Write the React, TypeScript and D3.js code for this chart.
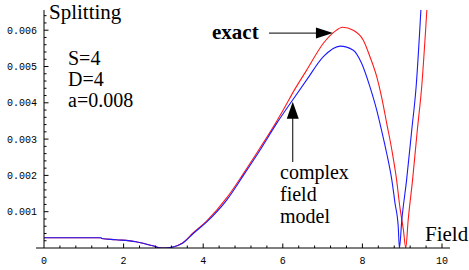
import React from "react"
import * as d3 from "d3"

// readings (Field, Splitting)
const lowField = [0, 1.43, 1.45, 1.81, 2.31, 2.73, 2.96, 3.06]
const lowValue = [0.000284, 0.000284, 0.000262, 0.000229, 0.000174, 0.000063, 0, 0]

const exactField = [3.06, 3.48, 3.75, 4.09, 4.59, 5.01, 5.43, 5.85, 6.01, 6.3, 6.6, 7.02, 7.3, 7.5, 7.77, 8.02, 8.19, 8.36, 8.48, 8.61, 8.74, 8.86, 8.94, 9.03, 9.09, 9.15, 9.26, 9.38, 9.49, 9.62]
const exactValue = [0, 0.00014, 0.00042, 0.00075, 0.00138, 0.00205, 0.00276, 0.0035, 0.0038, 0.00437, 0.0049, 0.00564, 0.00596, 0.00608, 0.006, 0.00573, 0.00527, 0.00472, 0.00417, 0.00344, 0.0027, 0.00187, 0.00114, 0.0005, 0, 0.00077, 0.00187, 0.00325, 0.00444, 0.00656]

const modelField = [3.06, 3.48, 3.75, 4.09, 4.59, 5.01, 5.43, 5.85, 6.23, 6.6, 7.02, 7.44, 7.77, 7.98, 8.19, 8.36, 8.48, 8.61, 8.74, 8.82, 8.9, 8.93, 8.99, 9.11, 9.24, 9.35, 9.47]
const modelValue = [0, 0.00013, 0.0004, 0.00072, 0.00132, 0.002, 0.0027, 0.00344, 0.00405, 0.00463, 0.00527, 0.00556, 0.00545, 0.00509, 0.00444, 0.0038, 0.00325, 0.00261, 0.00187, 0.00123, 0.00059, 0, 0.00077, 0.00187, 0.00325, 0.00444, 0.00656]

const xTicks = [0, 2, 4, 6, 8, 10]
const yTicks = [0.001, 0.002, 0.003, 0.004, 0.005, 0.006]
const params = ["S=4", "D=4", "a=0.008"]
const modelLabel = ["complex", "field", "model"]

const W = 469
const H = 270

export default function App() {
  const x = d3.scaleLinear().domain([0, 10]).range([44, 442])
  const y = d3.scaleLinear().domain([0, 0.006]).range([248, 30.2])
  const yTop = y(0.00656)

  const line = d3.line<[number, number]>()
    .x(d => x(d[0]))
    .y(d => y(d[1]))
    .curve(d3.curveMonotoneX)

  const low = lowField.map((f, i) => [f, lowValue[i]] as [number, number])
  const exact = low.concat(exactField.slice(1).map((f, i) => [f, exactValue[i + 1]] as [number, number]))
  const model = low.concat(modelField.slice(1).map((f, i) => [f, modelValue[i + 1]] as [number, number]))

  const xMinor = d3.range(0, 10.001, 0.4).filter(v => !xTicks.some(t => Math.abs(t - v) < 1e-6))
  const yMinor = d3.range(0.0002, 0.0065, 0.0002).filter(v => !yTicks.some(t => Math.abs(t - v) < 1e-9))

  const serif = "'Liberation Serif', 'Times New Roman', serif"
  const mono = "'Liberation Mono', 'Courier New', monospace"

  // arrow tips pointing at the curves
  const ex = [x(7.26), y(0.00592)]
  const cm = [x(6.25), y(0.00403)]

  return (
    <svg width={W} height={H} style={{ position: "absolute", left: 0, top: 0, background: "#fff" }}>
      <defs>
        <clipPath id="plot">
          <rect x={x(0)} y={yTop} width={x(10) - x(0) + 10} height={y(0) - yTop} />
        </clipPath>
      </defs>

      {/* curves */}
      <g clipPath="url(#plot)" fill="none" strokeWidth={1.1}>
        <path d={line(exact) || ""} stroke="#ff1a1a" />
        <path d={line(model) || ""} stroke="#1a1aff" />
      </g>

      {/* axes */}
      <g stroke="#000" strokeWidth={1}>
        <line x1={36} x2={450} y1={y(0)} y2={y(0)} />
        <line x1={x(0)} x2={x(0)} y1={y(0)} y2={10} />
        {xTicks.filter(t => t > 0).map(t => (
          <line key={"xt" + t} x1={x(t)} x2={x(t)} y1={y(0)} y2={y(0) - 4.5} />
        ))}
        {xMinor.map(t => (
          <line key={"xm" + t} x1={x(t)} x2={x(t)} y1={y(0)} y2={y(0) - 2.5} />
        ))}
        {yTicks.map(t => (
          <line key={"yt" + t} x1={x(0)} x2={x(0) + 4.5} y1={y(t)} y2={y(t)} />
        ))}
        {yMinor.map(t => (
          <line key={"ym" + t} x1={x(0)} x2={x(0) + 2.5} y1={y(t)} y2={y(t)} />
        ))}
      </g>

      <g fontFamily={mono} fontSize={10} fill="#000">
        {xTicks.map(t => (
          <text key={"xl" + t} x={x(t)} y={264} textAnchor="middle">{t}</text>
        ))}
        {yTicks.map(t => (
          <text key={"yl" + t} x={37} y={y(t) + 3.5} textAnchor="end">{d3.format(".3f")(t)}</text>
        ))}
      </g>

      <g fontFamily={serif} fontSize={21} fill="#000">
        <text x={49} y={19}>Splitting</text>
        <text x={425} y={241}>Field</text>
        <text x={212} y={39} fontWeight="bold">exact</text>
      </g>
      <g fontFamily={serif} fontSize={20} fill="#000">
        {params.map((p, i) => (
          <text key={p} x={68} y={65 + i * 21}>{p}</text>
        ))}
        {modelLabel.map((p, i) => (
          <text key={p} x={280} y={179 + i * 22}>{p}</text>
        ))}
      </g>

      {/* arrows */}
      <g stroke="#000" strokeWidth={1} fill="#000">
        <line x1={269} x2={ex[0] - 14} y1={ex[1]} y2={ex[1]} />
        <path d={`M${ex[0]},${ex[1]} L${ex[0] - 17},${ex[1] - 5.5} L${ex[0] - 17},${ex[1] + 5.5} Z`} stroke="none" />
        <line x1={cm[0]} x2={cm[0]} y1={162} y2={cm[1] + 14} />
        <path d={`M${cm[0]},${cm[1]} L${cm[0] - 6},${cm[1] + 17} L${cm[0] + 6},${cm[1] + 17} Z`} stroke="none" />
      </g>
    </svg>
  )
}
